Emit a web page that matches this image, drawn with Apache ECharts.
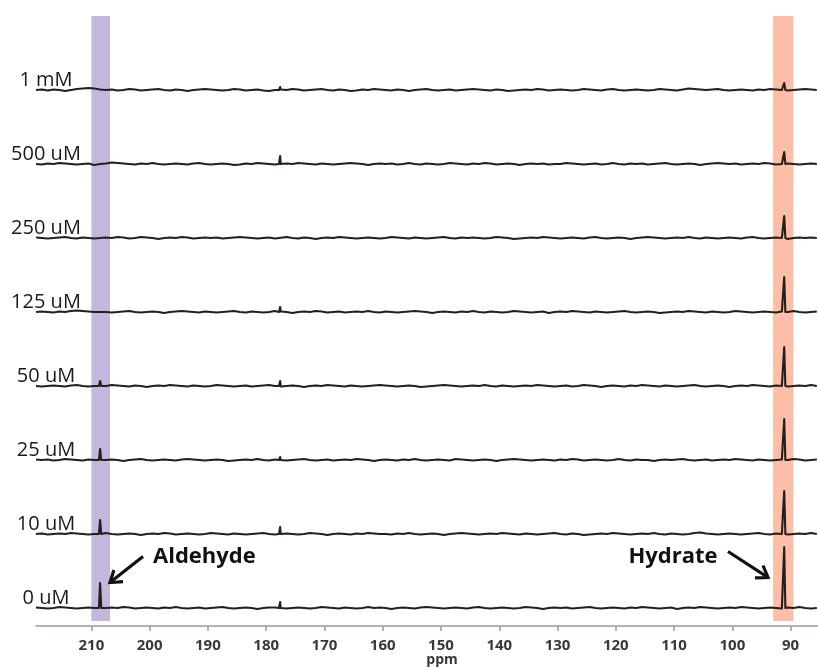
<!DOCTYPE html>
<html><head><meta charset="utf-8">
<script src="https://cdn.jsdelivr.net/npm/echarts@6/dist/echarts.min.js"></script>
<style>html,body{margin:0;padding:0;background:#fff}#c{width:818px;height:667px}</style>
</head><body><div id="c"></div>
<script>
// ---- data ----
const traceLabels = ['1 mM', '500 uM', '250 uM', '125 uM', '50 uM', '25 uM', '10 uM', '0 uM'];
const tickValues = [210, 200, 190, 180, 170, 160, 150, 140, 130, 120, 110, 100, 90];
const ppmMin = 85.3, ppmMax = 219.5;
const noiseStartPpm = 219.5, noiseStepPpm = 1;

const noise1mM = [0,0.5,-0.5,0.5,0,-1,0,1,1.5,2,1.5,0.5,0,0.5,-0.5, 0,1,0.5,-0.5,0,0.5,1,0,-0.5,0.5,0,-1,0,0.5,1, 0.5,0,-0.5,0,1,0.5,-0.5,0,0.5,-0.5,-1,0,0.5,0,1, 0.5,-0.5,0,0.5,1,0,-0.5,0.5,0,-1,-0.5,0.5,0,1,0.5, 0,-0.5,0.5,0,-1,0,0.5,1,0,-0.5,0,0.5,-0.5,0,0.5, 1,0.5,0,-0.5,0.5,0,-1,-0.5,0,0.5,0,1,0.5,-0.5,0, 0.5,0,-0.5,0,1,0.5,0,-0.5,0.5,1,0,-0.5,0,0.5,0, -0.5,0,1,0.5,0,-0.5,0.5,1.5,1,0.5,0,0.5,1,0,-0.5, 0,0.5,0,-0.5,0.5,0,1,0.5,0,-0.5,0,0.5,1,0.5,0];
const noise500uM = [0,-0.5,0.5,0,1,0.5,0,-0.5,0,0.5,-1,0,0.5,1.5,1, 0.5,0,-0.5,0.5,0,1,0,-0.5,0,0.5,0,-0.5,0.5,1,0, -0.5,0,0.5,0,-1,-0.5,0.5,0,1,0.5,0,-0.5,0,0.5,0, 1,0.5,0,-0.5,0.5,0,-0.5,0,0.5,1,0.5,0,-1,0,0.5, 0,0.5,-0.5,0,1,0,-0.5,0.5,0,-0.5,0,1,0.5,0,-0.5, 0.5,0,1,0.5,-0.5,0,0.5,0,-1,0,0.5,0,0.5,-0.5,0, 0,1,0.5,0,-0.5,0,0.5,-0.5,0,1,0,-0.5,0.5,0,0.5, -0.5,0,0.5,1,0,-0.5,0,0.5,0,-1,0,0.5,1,0.5,0, 0.5,-0.5,0,0.5,0,1,0.5,-0.5,0,0.5,0,-0.5,0,0.5,0];
const noise250uM = [0.5,0,-0.5,0,0.5,1,0,-0.5,0.5,0,-0.5,0,0.5,0,1, 0.5,-0.5,0,1,0.5,0,-1,0,0.5,0,1,0.5,-0.5,0,0.5, 0,0.5,-0.5,0,0.5,1,0.5,0,-0.5,0,0.5,-0.5,0,1,0, -0.5,0.5,0,-1,0,0.5,0,1,0.5,0,-0.5,0,0.5,0,-0.5, 0,1,0.5,0,-0.5,0.5,0,-0.5,0,0.5,1,0,-0.5,0.5,0, 0.5,0,-0.5,0,1,0.5,0,-1,-0.5,0,0.5,0,1,0.5,0, -0.5,0,0.5,0,-0.5,0.5,1,0,-0.5,0,0.5,0,-1,0,0.5, 1,0.5,0,-0.5,0,0.5,0,1,0,-0.5,0.5,0,-0.5,0,0.5, 0,-0.5,0.5,1,0,-0.5,0,0.5,0,-1,0,0.5,0,0.5,0];
const noise125uM = [0,0.5,0,-0.5,0.5,0,1,1.5,1,0.5,0,0.5,0,-0.5,0, 0.5,1,0,-0.5,0,0.5,0,-1,0,0.5,1,0.5,0,-0.5,0.5, 0,-0.5,0,0.5,1,0,-0.5,0.5,0,-0.5,0,1,0.5,0,-1, 0,0.5,0,1,0.5,-0.5,0,0.5,-0.5,0,0.5,0,1,0,-0.5, 0.5,0,-0.5,0,0.5,1,0.5,0,-1,0,0.5,0,-0.5,0.5,0, 1,0,-0.5,0.5,0,-0.5,0,1,0.5,0,-0.5,0,0.5,-1,0, 0.5,0,1,0.5,0,-0.5,0.5,0,-0.5,0,0.5,1,0,-0.5,0, 0.5,0,-1,-0.5,0,0.5,0,1,0.5,0,-0.5,0.5,0,-0.5,0, 1,0.5,0,-0.5,0,0.5,0,-0.5,0.5,0,1,0,-0.5,0,0.5];
const noise50uM = [0,-0.5,0,0.5,0,-0.5,0.5,1,0,-0.5,0,0.5,0,1,0.5, 0,-0.5,0.5,0,-1,0,0.5,0,1,0.5,0,-0.5,0.5,0,-0.5, 0,1,0.5,0,-0.5,0,0.5,-0.5,0,0.5,1,0,-0.5,0,0.5, 0,-1,0,0.5,0,1,0.5,0,-0.5,0.5,0,-0.5,0,0.5,1, 0.5,0,-0.5,0,0.5,0,-1,-0.5,0,0.5,1,0.5,0,-0.5,0, 0.5,0,1,0,-0.5,0.5,0,-0.5,0,0.5,0,1,0.5,0,-0.5, 0,0.5,-0.5,0,1,0.5,0,-1,0,0.5,0,-0.5,0.5,0,1, 0.5,0,-0.5,0.5,0,-0.5,0,0.5,1,0,-0.5,0,0.5,0,-1, 0,0.5,0,1,0.5,0,-0.5,0.5,0,-0.5,0,0.5,0,1,0];
const noise25uM = [0.5,0,0.5,-0.5,0,1,0.5,0,-0.5,0.5,0,-0.5,0,0.5,0, -1,0,0.5,1,0,-0.5,0,0.5,0,-0.5,0.5,1,0.5,0,-0.5, 0,0.5,0,-1,-0.5,0,0.5,0,1,0,-0.5,0.5,0,-0.5,0, 0.5,1,0,-0.5,0,0.5,-0.5,0,0.5,0,1,0.5,0,-1,0, 0.5,0,-0.5,0.5,0,1,0,-0.5,0,0.5,0,-0.5,1,0.5,0, -0.5,0,0.5,0,-1,0,0.5,1,0.5,0,-0.5,0,0.5,0,-0.5, 0.5,0,1,0.5,-0.5,0,0.5,0,-0.5,0,1,0,-0.5,0.5,0, 0,-1,0,0.5,0,0.5,1,0,-0.5,0,0.5,-0.5,0,0.5,0, 1,0.5,0,-0.5,0.5,0,-0.5,0,0.5,0,1,0.5,-0.5,0,0.5];
const noise10uM = [0,0.5,-0.5,0,0.5,0,1,0.5,0,-0.5,0,0.5,1,0,-0.5, 0,0.5,0,-1,0,0.5,0,1,0.5,-0.5,0,0.5,0,-0.5,0, 1,0.5,0,-0.5,0.5,0,-0.5,0,0.5,1,0,-0.5,0,0.5,0, -0.5,0,1,0.5,0,-1,0,0.5,0,-0.5,0.5,0,1,0.5,0, 0,-0.5,0.5,0,1,0,-0.5,0,0.5,0,-1,0,0.5,1,0.5, 0,-0.5,0,0.5,0,1,0.5,0,-0.5,0.5,0,-0.5,0,0.5,1, 0,-0.5,0.5,0,-1,-0.5,0,0.5,0,1,0.5,0,-0.5,0,0.5, 0,1,0,-0.5,0.5,0,-0.5,0,1,1.5,0.5,0,-0.5,0,0.5, 0,-0.5,0,0.5,1,0,-0.5,0.5,0,-0.5,0,0.5,0,1,0];
const noise0uM = [0.5,0,-0.5,0,1,0.5,0,-0.5,0,0.5,0,-1,0,0.5,0, 1,0.5,-0.5,0,0.5,0,-0.5,0.5,0,1,0,-0.5,0,0.5,-0.5, 0,0.5,1,0,-0.5,0,0.5,0,-1,0,0.5,0.5,0,-0.5,0, 0.5,0,-0.5,0,1,0.5,0,-0.5,0.5,0,-0.5,0,1,0,0.5, 0,-1,0,0.5,0,-0.5,0.5,1,0.5,0,-0.5,0,0.5,0,-0.5, 0.5,1,0,-0.5,0,0.5,0,-0.5,0,1,0.5,0,-1,0,0.5, 0,0.5,-0.5,0,0.5,1,0,-0.5,0,0.5,0,-0.5,0.5,0,1, 0.5,0,-0.5,0,0.5,-1,0,0.5,0,1,0.5,0,-0.5,0,0.5, 0,1,0.5,0,-0.5,0,0.5,0,-0.5,0.5,0,1,0,-0.5,0];
const traceNoise = [noise1mM, noise500uM, noise250uM, noise125uM, noise50uM, noise25uM, noise10uM, noise0uM];

const hydratePpm = 91.1, aldehydePpm = 208.5, impurityPpm = 177.6;
const hydrateHeights  = [7, 12, 22, 35, 39, 41, 43, 61];
const aldehydeHeights = [0, 0, 0, 2, 5, 11, 14, 25];
const impurityHeights = [3, 8, 2, 5, 5, 3, 7, 6];
const aldehydeBand = [210.0, 206.8];
const hydrateBand = [93.0, 89.5];

// ---- build ----
const peakHalfWidth = 0.2;
function buildTrace(i) {
  const pts = traceNoise[i].map((v, k) => [noiseStartPpm - k * noiseStepPpm, v]);
  [[hydratePpm, hydrateHeights[i]], [aldehydePpm, aldehydeHeights[i]], [impurityPpm, impurityHeights[i]]]
    .forEach(([p, h]) => {
      if (h > 0) { pts.push([p + peakHalfWidth, 0], [p, h], [p - peakHalfWidth, 0]); }
    });
  pts.sort((a, b) => b[0] - a[0]);
  return pts;
}

const L = 36, R = 0, firstBase = 90, gap = 74, above = 66, below = 8;
const axisY = 626, bandTop = 16, bandBottom = 621;
const grids = [], xAxes = [], yAxes = [], series = [], graphics = [];
traceLabels.forEach((lab, i) => {
  const base = firstBase + gap * i;
  grids.push({ left: L, right: R, top: base - above, height: above + below });
  xAxes.push({ gridIndex: i, type: 'value', inverse: true, min: ppmMin, max: ppmMax, show: false });
  yAxes.push({ gridIndex: i, type: 'value', min: -below, max: above, show: false });
  series.push({ type: 'line', xAxisIndex: i, yAxisIndex: i, data: buildTrace(i), showSymbol: false,
    symbol: 'none', lineStyle: { color: '#261e1e', width: 2.1, join: 'round' }, z: 5, silent: true });
  graphics.push({ type: 'text', x: 46, y: base - 10, z: 10,
    style: { text: lab, fontSize: 20, fontFamily: 'Open Sans', fill: '#1a1a1a', align: 'center', verticalAlign: 'middle' } });
});
const ai = traceLabels.length;
const axisColor = '#a49694';
grids.push({ left: L, right: R, top: bandTop, bottom: 667 - axisY });
xAxes.push({ gridIndex: ai, type: 'value', inverse: true, min: ppmMin, max: ppmMax,
  splitLine: { show: false },
  axisLine: { show: true, lineStyle: { color: axisColor, width: 1.5 } },
  axisTick: { show: true, customValues: tickValues, length: 5, lineStyle: { color: axisColor, width: 1.5 } },
  axisLabel: { customValues: tickValues, margin: 12, fontSize: 15, fontWeight: 'bold', fontFamily: 'Open Sans', color: '#383838' } });
const yRange = axisY - bandTop;
yAxes.push({ gridIndex: ai, type: 'value', min: 0, max: yRange, show: false });
series.push({ type: 'line', xAxisIndex: ai, yAxisIndex: ai, data: [], z: 1, silent: true,
  markArea: { silent: true, data: [
    [{ xAxis: aldehydeBand[0], yAxis: axisY - bandBottom, itemStyle: { color: '#c2b7dd' } }, { xAxis: aldehydeBand[1], yAxis: yRange }],
    [{ xAxis: hydrateBand[0], yAxis: axisY - bandBottom, itemStyle: { color: '#fcbea6' } }, { xAxis: hydrateBand[1], yAxis: yRange }]
  ] } });

function arrow(x1, y1, x2, y2) {
  const dx = x2 - x1, dy = y2 - y1, len = Math.hypot(dx, dy);
  const ux = dx / len, uy = dy / len, a = 0.6, h = 13;
  const bx = -ux, by = -uy;
  const p1 = [x2 + h * (bx * Math.cos(a) - by * Math.sin(a)), y2 + h * (bx * Math.sin(a) + by * Math.cos(a))];
  const p2 = [x2 + h * (bx * Math.cos(-a) - by * Math.sin(-a)), y2 + h * (bx * Math.sin(-a) + by * Math.cos(-a))];
  return [
    { type: 'line', z: 10, shape: { x1, y1, x2: x2 - ux * 1.5, y2: y2 - uy * 1.5 }, style: { stroke: '#111', lineWidth: 3.2 } },
    { type: 'polyline', z: 10, shape: { points: [p1, [x2, y2], p2] }, style: { stroke: '#111', lineWidth: 3.2, fill: null, lineJoin: 'miter' } }
  ];
}
graphics.push(...arrow(143, 556.5, 110, 582.5), ...arrow(728, 551.5, 768, 577.5));
graphics.push({ type: 'text', x: 153, y: 556.5, z: 10, style: { text: 'Aldehyde', fontSize: 22, fontWeight: 'bold', fontFamily: 'Open Sans', fill: '#111', align: 'left', verticalAlign: 'middle' } });
graphics.push({ type: 'text', x: 673, y: 556.5, z: 10, style: { text: 'Hydrate', fontSize: 22, fontWeight: 'bold', fontFamily: 'Open Sans', fill: '#111', align: 'center', verticalAlign: 'middle' } });
graphics.push({ type: 'text', x: 442, y: 660, z: 10, style: { text: 'ppm', fontSize: 14, fontWeight: 'bold', fontFamily: 'Open Sans', fill: '#383838', align: 'center', verticalAlign: 'middle' } });

const chart = echarts.init(document.getElementById('c'), null, { renderer: 'canvas' });
chart.setOption({ animation: false, backgroundColor: '#fff', grid: grids, xAxis: xAxes, yAxis: yAxes, series, graphic: graphics });
</script></body></html>
